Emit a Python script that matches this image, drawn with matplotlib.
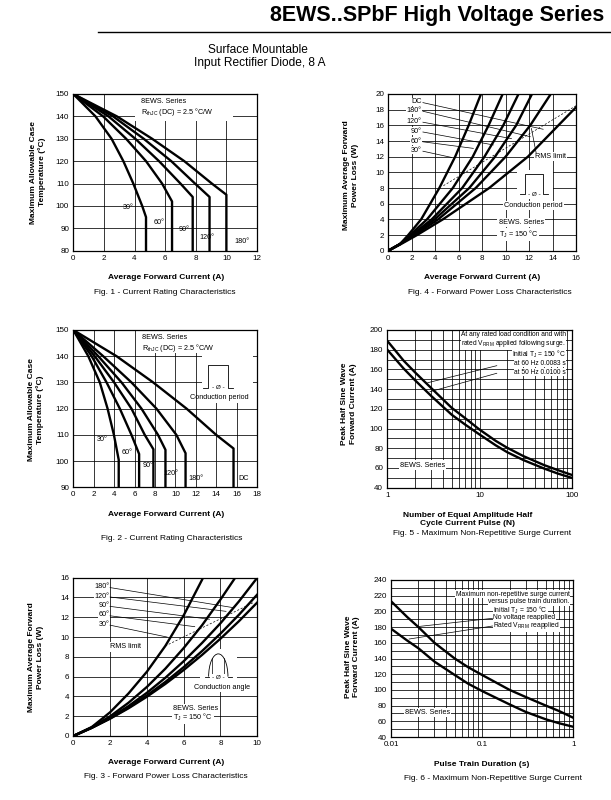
import numpy as np
import matplotlib
matplotlib.use("Agg")
import matplotlib.pyplot as plt
from matplotlib.lines import Line2D
from matplotlib.patches import Rectangle, Arc
from matplotlib.ticker import LogLocator, MultipleLocator, NullFormatter

plt.rcParams['font.family'] = ['Liberation Sans', 'DejaVu Sans']
plt.rcParams['mathtext.fontset'] = 'custom'
plt.rcParams['mathtext.rm'] = 'Liberation Sans'
plt.rcParams['mathtext.it'] = 'Liberation Sans:italic'
plt.rcParams['mathtext.bf'] = 'Liberation Sans:bold'

# ---- Fig. 1 - current rating (rectangular conduction) ----
f1_x30 = [0, 1.45, 2.5, 3.27, 3.92, 4.5, 4.75, 4.75]
f1_y30 = [150, 140, 130, 120, 110, 100, 95, 80]
f1_x60 = [0, 1.95, 3.45, 4.75, 5.8, 6.45, 6.45]
f1_y60 = [150, 140, 130, 120, 110, 102, 80]
f1_x90 = [0, 2.3, 4.05, 5.6, 7.0, 7.8, 7.8]
f1_y90 = [150, 140, 130, 120, 110, 104, 80]
f1_x120 = [0, 2.6, 4.6, 6.4, 7.95, 8.9, 8.9]
f1_y120 = [150, 140, 130, 120, 110, 104, 80]
f1_x180 = [0, 2.85, 5.15, 7.25, 9.05, 10.0, 10.0]
f1_y180 = [150, 140, 130, 120, 110, 105, 80]

# ---- Fig. 2 - current rating (sinusoidal conduction) ----
f2_y = [150, 140, 130, 120, 110]
f2_x30 = [0, 1.47, 2.6, 3.36, 3.98, 4.45, 4.45]
f2_k30 = [100.5, 90]
f2_x60 = [0, 1.8, 3.26, 4.56, 5.7, 6.45, 6.45]
f2_k60 = [102.7, 90]
f2_x90 = [0, 2.1, 4.0, 5.7, 7.0, 7.85, 7.85]
f2_k90 = [104.5, 90]
f2_x120 = [0, 2.45, 4.73, 6.68, 8.3, 9.03, 9.03]
f2_k120 = [104.3, 90]
f2_x180 = [0, 2.93, 5.7, 8.15, 10.1, 11.0, 11.0]
f2_k180 = [103, 90]
f2_xdc = [0, 4.24, 7.83, 11.1, 14.0, 15.7, 15.7]
f2_kdc = [104.8, 90]

# ---- Fig. 4 - power loss (rectangular) ----
f4_y = [0, 0.85, 2, 4, 8, 12, 16, 20]
f4_x30 = [0, 1, 1.7, 2.8, 4.35, 5.7, 6.85, 7.9]
f4_x60 = [0, 1, 1.85, 3.3, 5.5, 7.2, 8.55, 9.75]
f4_x90 = [0, 1, 2.0, 3.7, 6.3, 8.2, 9.8, 11.1]
f4_x120 = [0, 1, 2.1, 3.95, 6.9, 9.1, 10.9, 12.25]
f4_x180 = [0, 1, 2.25, 4.25, 7.45, 10.0, 12.1, 13.85]
f4_xdc = [0, 1, 2.45, 4.65, 8.6, 11.9, 14.5, 16.0]
f4_ydc = [0, 0.78, 2, 4, 8, 12, 16, 18.3]
f4_rms_x = [4.7, 16]
f4_rms_y = [8.3, 18.5]

# ---- Fig. 3 - power loss (sinusoidal) ----
f3_x = [0, 1, 2, 3, 4, 5, 6, 7, 8, 9, 10]
f3_x30 = [0, 1, 2, 3, 4, 5, 6, 7.0]
f3_y30 = [0, 0.9, 2.4, 4.3, 6.5, 9.1, 12.2, 15.8]
f3_x60 = [0, 1, 2, 3, 4, 5, 6, 7, 8, 8.8]
f3_y60 = [0, 0.88, 1.99, 3.36, 4.96, 6.8, 8.89, 11.2, 13.8, 16]
f3_y90 = [0, 0.84, 1.85, 3.02, 4.37, 5.88, 7.56, 9.41, 11.4, 13.6, 16]
f3_y120 = [0, 0.82, 1.78, 2.87, 4.1, 5.46, 6.96, 8.59, 10.35, 12.25, 14.3]
f3_y180 = [0, 0.82, 1.75, 2.8, 3.97, 5.26, 6.67, 8.2, 9.84, 11.6, 13.5]
f3_rms_x = [5.0, 9.8]
f3_rms_y = [9.1, 13.5]

# ---- Fig. 5 - surge current vs number of pulses ----
f5_n = [1, 1.5, 2, 3, 5, 7, 10, 15, 20, 30, 50, 70, 100]
f5_60hz = [189, 169, 157, 141, 121, 110.5, 99, 87.5, 80.5, 72, 63, 58, 53]
f5_50hz = [180, 161, 149, 133, 114, 104, 94, 83, 76, 68, 59.5, 54.5, 50]

# ---- Fig. 6 - surge current vs pulse train duration ----
f6_t = [0.01, 0.015, 0.02, 0.03, 0.05, 0.07, 0.1, 0.2, 0.3, 0.5, 0.7, 1.0]
f6_novolt = [213, 193, 180, 160, 140, 129, 119, 100, 91, 80, 73, 64.5]
f6_rated = [178, 163, 153, 136, 119, 108, 98.5, 81.5, 72, 62.5, 57.5, 53]

W, H = 611, 800
fig = plt.figure(figsize=(W / 100, H / 100), dpi=100)
fig.patch.set_facecolor('white')

LW = 1.7
TXT = 5.2
WHITE = dict(facecolor='white', edgecolor='none', pad=0.8)
WHITE_TIGHT = dict(facecolor='white', edgecolor='none', pad=0.3)


def px_axes(l, t, r, b):
    return fig.add_axes([l / W, 1 - b / H, (r - l) / W, (b - t) / H])


def ftext(x, y, s, **kw):
    fig.text(x / W, 1 - y / H, s, **kw)


def setup(ax, xlim, ylim, xticks, yticks, log=False, yminor=None):
    if log:
        ax.set_xscale('log')
        ax.xaxis.set_minor_locator(LogLocator(base=10, subs=range(2, 10)))
        ax.xaxis.set_minor_formatter(NullFormatter())
    ax.set_xlim(*xlim)
    ax.set_ylim(*ylim)
    ax.set_xticks(xticks)
    if log:
        ax.set_xticklabels([f"{v:g}" for v in xticks])
    ax.set_yticks(yticks)
    if yminor:
        ax.yaxis.set_minor_locator(MultipleLocator(yminor))
        ax.yaxis.set_minor_formatter(NullFormatter())
    ax.set_axisbelow(True)
    ax.grid(True, which='both', color='black', lw=0.55)
    ax.tick_params(which='both', length=0, labelsize=5.8, pad=3)
    for s in ax.spines.values():
        s.set_linewidth(0.9)


def white_box(ax, x0, y0, x1, y1):
    ax.add_patch(Rectangle((x0, y0), x1 - x0, y1 - y0, facecolor='white',
                           edgecolor='none', zorder=1))


def pulse(ax, x0, x1, yb, yt, stub):
    ax.plot([x0 - stub, x0, x0, x1, x1, x1 + stub], [yb, yb, yt, yt, yb, yb],
            color='k', lw=0.6, zorder=3)
    ax.text((x0 + x1) / 2, yb, '‑ Ø ‑', ha='center', va='center', fontsize=4.5,
            zorder=4, bbox=WHITE_TIGHT)


# ---------------- header ----------------
ftext(604, 16, '8EWS..SPbF High Voltage Series', ha='right', va='center',
      fontsize=15.5, fontweight='bold')
fig.add_artist(Line2D([98 / W, 1.0], [1 - 32 / H, 1 - 32 / H], color='k', lw=1.0))
ftext(258, 50, 'Surface Mountable', ha='center', va='center', fontsize=8.6)
ftext(260, 63, 'Input Rectifier Diode, 8 A', ha='center', va='center', fontsize=8.6)

# ---------------- Fig. 1 ----------------
ax1 = px_axes(73.3, 94, 257, 250.7)
setup(ax1, (0, 12), (80, 150), range(0, 13, 2), range(80, 151, 10))
for xs, ys in [(f1_x30, f1_y30), (f1_x60, f1_y60), (f1_x90, f1_y90),
               (f1_x120, f1_y120), (f1_x180, f1_y180)]:
    ax1.plot(xs, ys, color='k', lw=LW, zorder=3)
white_box(ax1, 4.05, 137.8, 10.45, 150)
ax1.text(4.45, 146.5, '8EWS. Series', fontsize=TXT, va='center')
ax1.text(4.45, 142.0, 'R$_{\\rm thJC}$ (DC) = 2.5 °C/W', fontsize=TXT, va='center')
for x, y, s in [(3.6, 99.5, '30°'), (5.6, 92.5, '60°'), (7.25, 89.3, '90°'),
                (8.75, 86.0, '120°'), (11.0, 84.0, '180°')]:
    ax1.text(x, y, s, fontsize=TXT, ha='center', va='center')
ftext(38, 172, 'Maximum Allowable Case\nTemperature (°C)', rotation=90, ha='center',
      va='center', fontsize=6, fontweight='bold', linespacing=1.35)
ftext(166, 277.5, 'Average Forward Current (A)', ha='center', va='center', fontsize=6,
      fontweight='bold')
ftext(165, 293, 'Fig. 1 - Current Rating Characteristics', ha='center', va='center',
      fontsize=6)

# ---------------- Fig. 4 ----------------
ax4 = px_axes(388.3, 94, 576, 250.7)
setup(ax4, (0, 16), (0, 20), range(0, 17, 2), range(0, 21, 2))
for xs in [f4_x30, f4_x60, f4_x90, f4_x120, f4_x180]:
    ax4.plot(xs, f4_y, color='k', lw=LW, zorder=3)
ax4.plot(f4_xdc, f4_ydc, color='k', lw=LW, zorder=3)
ax4.plot(f4_rms_x, f4_rms_y, color='k', lw=0.5, ls=(0, (3, 2.5)), zorder=3)
f4_lab = ['DC', '180°', '120°', '90°', '60°', '30°']
f4_lab_y = [19.0, 17.9, 16.5, 15.25, 14.0, 12.8]
f4_end = [(13.2, 15.5), (12.1, 14.55), (10.5, 14.3), (8.95, 13.5), (7.25, 13.06),
          (5.4, 11.9)]
for s, y, (ex, ey) in zip(f4_lab, f4_lab_y, f4_end):
    ax4.text(2.85, y, s, fontsize=TXT, ha='right', va='center', zorder=4,
             bbox=WHITE_TIGHT)
    ax4.plot([2.95, ex], [y - 0.1, ey], color='k', lw=0.5, zorder=4)
ax4.text(13.8, 12.0, 'RMS limit', fontsize=TXT, ha='center', va='center', zorder=4,
         bbox=WHITE)
ax4.plot([12.6, 12.2], [12.5, 15.6], color='k', lw=0.5, zorder=4)
white_box(ax4, 11.0, 6.6, 14.0, 10.3)
pulse(ax4, 11.65, 13.2, 7.2, 9.75, 0.4)
ax4.text(12.4, 5.75, 'Conduction period', fontsize=TXT, ha='center', va='center',
         zorder=4, bbox=WHITE)
ax4.text(9.4, 3.55, '8EWS. Series', fontsize=TXT, ha='left', va='center', zorder=4,
         bbox=WHITE)
ax4.text(9.4, 2.1, 'T$_{\\rm J}$ = 150 °C', fontsize=TXT, ha='left', va='center',
         zorder=4, bbox=WHITE)
ftext(351, 175, 'Maximum Average Forward\nPower Loss (W)', rotation=90, ha='center',
      va='center', fontsize=6, fontweight='bold', linespacing=1.35)
ftext(482, 277.5, 'Average Forward Current (A)', ha='center', va='center', fontsize=6,
      fontweight='bold')
ftext(490, 293, 'Fig. 4 - Forward Power Loss Characteristics', ha='center',
      va='center', fontsize=6)

# ---------------- Fig. 2 ----------------
ax2 = px_axes(73.3, 330, 257, 487.3)
setup(ax2, (0, 18), (90, 150), range(0, 19, 2), range(90, 151, 10))
for xs, ks in [(f2_x30, f2_k30), (f2_x60, f2_k60), (f2_x90, f2_k90),
               (f2_x120, f2_k120), (f2_x180, f2_k180), (f2_xdc, f2_kdc)]:
    ax2.plot(xs, f2_y + ks, color='k', lw=LW, zorder=3)
white_box(ax2, 6.3, 141.3, 17.6, 150)
white_box(ax2, 12.6, 122.3, 17.6, 141.3)
ax2.text(6.7, 147.2, '8EWS. Series', fontsize=TXT, va='center')
ax2.text(6.7, 143.3, 'R$_{\\rm thJC}$ (DC) = 2.5 °C/W', fontsize=TXT, va='center')
pulse(ax2, 13.2, 15.15, 127.9, 136.7, 0.5)
ax2.text(14.35, 124.3, 'Conduction period', fontsize=TXT, ha='center', va='center',
         zorder=4)
for x, y, s in [(2.8, 108.3, '30°'), (5.3, 103.2, '60°'), (7.3, 98.5, '90°'),
                (9.6, 95.4, '120°'), (12.05, 93.2, '180°'), (16.7, 93.2, 'DC')]:
    ax2.text(x, y, s, fontsize=TXT, ha='center', va='center')
ftext(36, 410, 'Maximum Allowable Case\nTemperature (°C)', rotation=90, ha='center',
      va='center', fontsize=6, fontweight='bold', linespacing=1.35)
ftext(166, 514, 'Average Forward Current (A)', ha='center', va='center', fontsize=6,
      fontweight='bold')
ftext(172, 538, 'Fig. 2 - Current Rating Characteristics', ha='center', va='center',
      fontsize=6)

# ---------------- Fig. 5 ----------------
ax5 = px_axes(387.3, 330, 571.7, 487.7)
setup(ax5, (1, 100), (40, 200), [1, 10, 100], range(40, 201, 20), log=True, yminor=10)
ax5.plot(f5_n, f5_60hz, color='k', lw=LW, zorder=3)
ax5.plot(f5_n, f5_50hz, color='k', lw=LW, zorder=3)
f5_notes = ['At any rated load condition and with',
            'rated V$_{\\rm RRM}$ applied following surge.',
            'Initial T$_{\\rm J}$ = 150 °C',
            'at 60 Hz 0.0083 s',
            'at 50 Hz 0.0100 s']
for s, y in zip(f5_notes, [195.0, 186.0, 175.2, 166.0, 157.0]):
    ax5.text(86, y, s, fontsize=4.8, ha='right', va='center', zorder=4,
             bbox=WHITE_TIGHT)
ax5.plot([15.4, 2.74], [163.8, 146.5], color='k', lw=0.5, zorder=4)
ax5.plot([15.4, 2.9], [156.1, 137.4], color='k', lw=0.5, zorder=4)
ax5.text(1.37, 63, '8EWS. Series', fontsize=TXT, ha='left', va='center', zorder=4,
         bbox=WHITE)
ftext(349, 404, 'Peak Half Sine Wave\nForward Current (A)', rotation=90, ha='center',
      va='center', fontsize=6, fontweight='bold', linespacing=1.35)
ftext(468, 519.5, 'Number of Equal Amplitude Half\nCycle Current Pulse (N)',
      ha='center', va='center', fontsize=6, fontweight='bold', linespacing=1.3)
ftext(482, 533.5, 'Fig. 5 - Maximum Non-Repetitive Surge Current', ha='center',
      va='center', fontsize=6)

# ---------------- Fig. 3 ----------------
ax3 = px_axes(73.3, 577.7, 257.3, 736)
setup(ax3, (0, 10), (0, 16), range(0, 11, 2), range(0, 17, 2))
ax3.plot(f3_x30, f3_y30, color='k', lw=LW, zorder=3)
ax3.plot(f3_x60, f3_y60, color='k', lw=LW, zorder=3)
for ys in [f3_y90, f3_y120, f3_y180]:
    ax3.plot(f3_x, ys, color='k', lw=LW, zorder=3)
ax3.plot(f3_rms_x, f3_rms_y, color='k', lw=0.5, ls=(0, (3, 2.5)), zorder=3)
f3_lab = ['180°', '120°', '90°', '60°', '30°']
f3_lab_y = [15.1, 14.15, 13.2, 12.25, 11.3]
f3_end = [(8.7, 12.97), (8.3, 12.6), (7.4, 11.8), (6.6, 11.05), (5.1, 10.0)]
for s, y, (ex, ey) in zip(f3_lab, f3_lab_y, f3_end):
    ax3.text(1.95, y, s, fontsize=TXT, ha='right', va='center', zorder=4,
             bbox=WHITE_TIGHT)
    ax3.plot([2.0, ex], [y - 0.1, ey], color='k', lw=0.5, zorder=4)
ax3.text(2.85, 9.0, 'RMS limit', fontsize=TXT, ha='center', va='center', zorder=4,
         bbox=WHITE)
white_box(ax3, 6.9, 5.4, 8.9, 8.8)
ax3.add_patch(Arc((7.88, 6.0), 1.05, 4.6, theta1=0, theta2=180, color='k', lw=0.6,
                  zorder=3))
ax3.plot([7.15, 7.355], [6.0, 6.0], color='k', lw=0.6, zorder=3)
ax3.plot([8.405, 8.6], [6.0, 6.0], color='k', lw=0.6, zorder=3)
ax3.plot([7.55, 7.55], [6.0, 7.85], color='k', lw=0.5, zorder=3)
ax3.plot([8.21, 8.21], [6.0, 7.85], color='k', lw=0.5, zorder=3)
ax3.text(7.88, 5.95, '‑ Ø ‑', ha='center', va='center', fontsize=4.5, zorder=4,
         bbox=WHITE_TIGHT)
ax3.text(8.09, 4.86, 'Conduction angle', fontsize=TXT, ha='center', va='center',
         zorder=4, bbox=WHITE)
ax3.text(5.43, 2.77, '8EWS. Series', fontsize=TXT, ha='left', va='center', zorder=4,
         bbox=WHITE)
ax3.text(5.43, 1.86, 'T$_{\\rm J}$ = 150 °C', fontsize=TXT, ha='left', va='center',
         zorder=4, bbox=WHITE)
ftext(36, 657, 'Maximum Average Forward\nPower Loss (W)', rotation=90, ha='center',
      va='center', fontsize=6, fontweight='bold', linespacing=1.35)
ftext(166, 763, 'Average Forward Current (A)', ha='center', va='center', fontsize=6,
      fontweight='bold')
ftext(166, 777, 'Fig. 3 - Forward Power Loss Characteristics', ha='center',
      va='center', fontsize=6)

# ---------------- Fig. 6 ----------------
ax6 = px_axes(391, 580, 573.3, 737)
setup(ax6, (0.01, 1), (40, 240), [0.01, 0.1, 1], range(40, 241, 20), log=True,
      yminor=10)
ax6.plot(f6_t, f6_novolt, color='k', lw=LW, zorder=3)
ax6.plot(f6_t, f6_rated, color='k', lw=LW, zorder=3)
ax6.text(0.912, 221.8, 'Maximum non-repetitive surge current', fontsize=4.9,
         ha='right', va='center', zorder=4, bbox=WHITE_TIGHT)
ax6.text(0.912, 212.4, 'versus pulse train duration.', fontsize=4.9, ha='right',
         va='center', zorder=4, bbox=WHITE_TIGHT)
for s, y in [('Initial T$_{\\rm J}$ = 150 °C', 201.8), ('No voltage reapplied', 192.0),
             ('Rated V$_{\\rm RRM}$ reapplied', 181.8)]:
    ax6.text(0.133, y, s, fontsize=4.9, ha='left', va='center', zorder=4,
             bbox=WHITE_TIGHT)
ax6.plot([0.13, 0.0195], [191.2, 180.6], color='k', lw=0.5, zorder=4)
ax6.plot([0.13, 0.0158], [181.4, 164.8], color='k', lw=0.5, zorder=4)
ax6.text(0.0143, 71, '8EWS. Series', fontsize=TXT, ha='left', va='center', zorder=4,
         bbox=WHITE)
ftext(352.5, 657, 'Peak Half Sine Wave\nForward Current (A)', rotation=90,
      ha='center', va='center', fontsize=6, fontweight='bold', linespacing=1.35)
ftext(482, 764, 'Pulse Train Duration (s)', ha='center', va='center', fontsize=6,
      fontweight='bold')
ftext(493, 778, 'Fig. 6 - Maximum Non-Repetitive Surge Current', ha='center',
      va='center', fontsize=6)

fig.savefig('out.png', dpi=100, facecolor='white')
